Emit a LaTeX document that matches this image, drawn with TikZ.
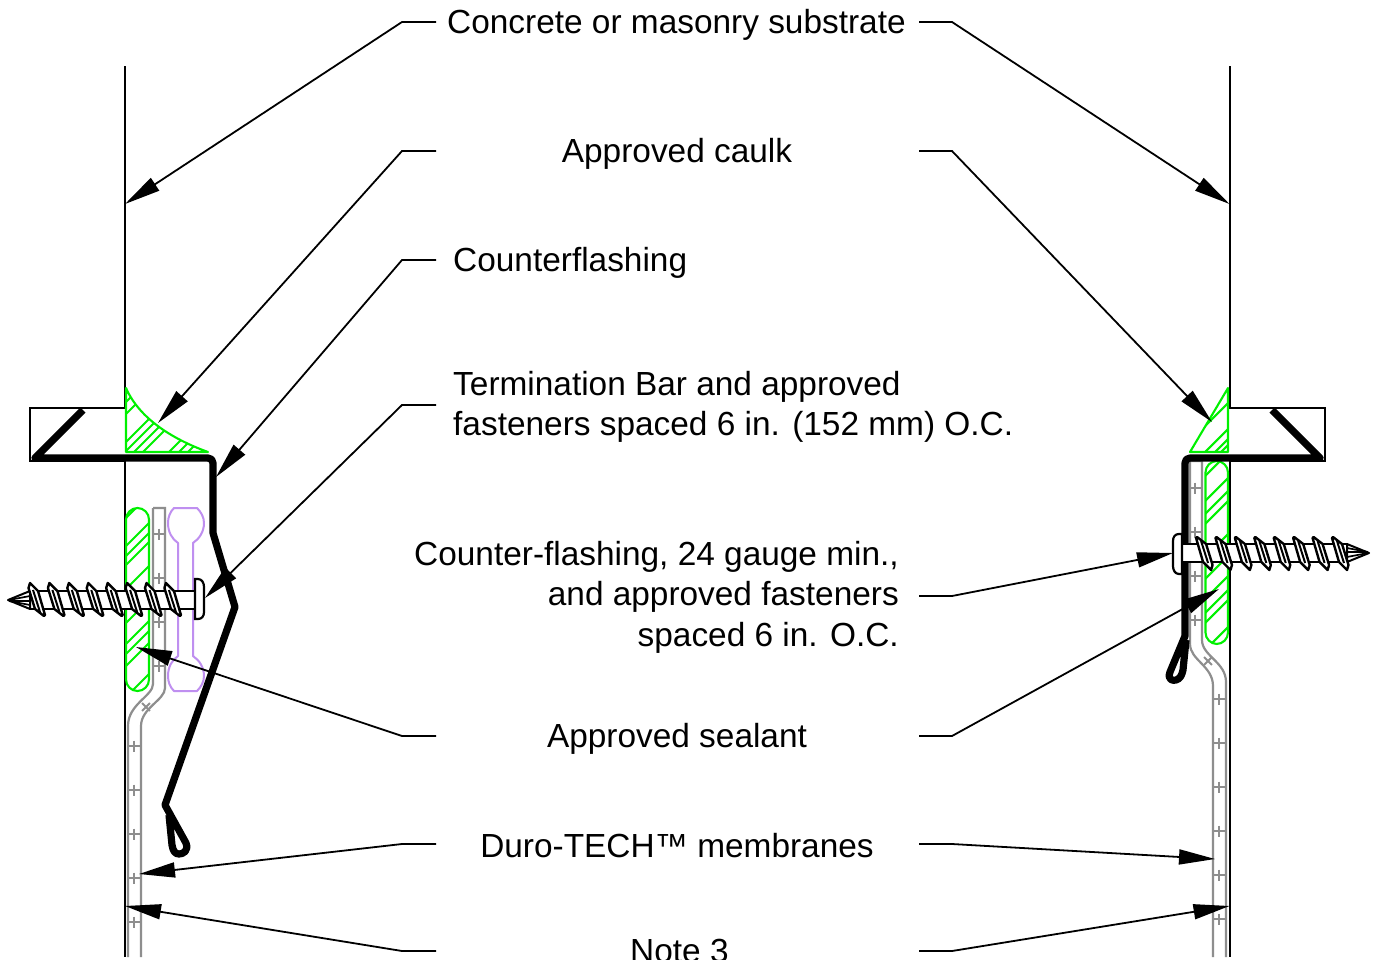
\documentclass[tikz,border=0pt]{standalone}
\usepackage{fontspec}
\setmainfont{Liberation Sans}
\usetikzlibrary{arrows.meta,calc}
\definecolor{sealgreen}{HTML}{00F000}
\definecolor{membgrey}{HTML}{8E8E8E}
\definecolor{barpurple}{HTML}{BF8FF0}
\tikzset{
  wall/.style={line width=2pt,black},
  flash/.style={line width=7.2pt,black,line join=round},
  seal/.style={line width=2.1pt,sealgreen},
  memb/.style={line width=2.2pt,membgrey},
  bar/.style={line width=2pt,barpurple},
  leader/.style={line width=1.8pt,black,-{Triangle[length=36pt,width=15pt]}},
  label/.style={inner sep=0pt,font=\fontsize{33.4}{40.6}\selectfont},
  plus/.pic={\draw[line width=1.9pt,membgrey] (-5.5,0)--(5.5,0) (0,-5.5)--(0,5.5);},
  screw/.pic={
    \draw[line width=2.4pt,black,fill=white] (22,-9)--(187,-9)--(187,9)--(22,9);
    \draw[line width=2pt,black,fill=white,line join=round] (0,0)--(22,-9)--(22,9)--cycle;
    \draw[line width=1.7pt,black] (1,0)--(22,-4) (1,1)--(22,1) (1,1)--(22,5);
    \foreach \k in {0,...,7}{
      \begin{scope}[shift={({\k*19.42},0)}]
        \draw[line width=2.4pt,black,fill=white,line join=round]
          (22,-17)--(30,-9)--(37,15)--(36,16)--(27,9)--(20.5,-12)--cycle;
        \draw[line width=2pt,black] (25,-10)--(32,12);
      \end{scope}
    }
    \draw[line width=2.2pt,black,fill=white]
      (187,-21)--(190,-21) .. controls (194,-21) and (196,-17) .. (196,-13)
      --(196,12) .. controls (196,16) and (194,19) .. (190,19)--(187,19)--cycle;
  }
}
\newcommand{\hatch}[1]{\foreach \c in {#1}{\draw[seal] ({\c-1000},1000)--(\c,0);}}
\begin{document}
\begin{tikzpicture}[x=1pt,y=-1pt]
\useasboundingbox (0,0) rectangle (1379,959);
\fill[white] (0,0) rectangle (1379,959);

% walls and ledges
\draw[wall] (125,66)--(125,408)--(30,408)--(30,461)--(125,461)--(125,957);
\draw[wall] (1229.5,66)--(1229.5,408)--(1325,408)--(1325,461)--(1229.5,461)--(1229.5,957);

% caulk, left
\begin{scope}
  \clip (126,388) .. controls (140,420) and (175,440) .. (208,452)--(126,452)--cycle;
  \hatch{528,540,568,577,586,595,621,631,640}
\end{scope}
\draw[seal,line join=round] (126,388) .. controls (140,420) and (175,440) .. (208,452)--(126,452)--cycle;
% sealant, left
\begin{scope}
  \clip[rounded corners=11.5pt] (126,508) rectangle (149,691);
  \hatch{644,672,682,691,715,749,770,780,792,823}
\end{scope}
\draw[seal,rounded corners=11.5pt] (126,508) rectangle (149,691);
% membrane, left
\draw[memb] (153,508)--(165,508)--(165,688) .. controls (165,700) and (141,708) .. (141,726)--(141,957);
\draw[memb] (153,508)--(153,684) .. controls (153,696) and (128,704) .. (128,726)--(128,957);
\foreach \p in {534,578,622,666}{\pic at (159,\p) {plus};}
\pic[rotate=45] at (146,707) {plus};
\foreach \p in {746,790,834,878,922}{\pic at (134,\p) {plus};}
% termination bar
\draw[bar,line join=round] (174,508)--(197,508) .. controls (201,512) and (204,517) .. (204,523)
  .. controls (204,532) and (199,539) .. (193,543)--(193,656)
  .. controls (199,660) and (204,667) .. (204,676) .. controls (204,682) and (201,687) .. (197,691)
  --(174,691) .. controls (170,687) and (168,682) .. (168,676)
  .. controls (168,667) and (172,660) .. (178,656)--(178,543)
  .. controls (172,539) and (168,532) .. (168,523) .. controls (168,517) and (170,512) .. (174,508)--cycle;

% counterflashing, left
\draw[flash] (83,410)--(35,458)--(208,458) .. controls (211,458) and (213,460) .. (213,463)
  --(213,533)--(235,607)--(165,805)--(186,843) .. controls (189,851) and (183,854) .. (179,854)
  .. controls (175,854) and (173,851) .. (172,845)--(169,815);
\pic at (8,600) {screw};

% caulk, right
\begin{scope}
  \clip (1228,388)--(1190,452)--(1228,452)--cycle;
  \hatch{1631,1657,1667,1673}
\end{scope}
\draw[seal,line join=round] (1228,388)--(1190,452)--(1228,452)--cycle;
% sealant, right
\begin{scope}
  \clip[rounded corners=11.5pt] (1205.5,461) rectangle (1228,644);
  \hatch{1681,1706,1719,1729,1762,1784,1804,1818,1828,1855}
\end{scope}
\draw[seal,rounded corners=11.5pt] (1205.5,461) rectangle (1228,644);
% membrane, right
\draw[memb] (1190,461)--(1202,461)--(1202,640) .. controls (1202,656) and (1226,662) .. (1226,682)--(1226,957);
\draw[memb] (1190,461)--(1190,644) .. controls (1190,660) and (1213,666) .. (1213,686)--(1213,957);
\foreach \p in {488,532,576,620}{\pic at (1195,\p) {plus};}
\pic[rotate=45] at (1208,661) {plus};
\foreach \p in {699,743,787,831,875,919}{\pic at (1219,\p) {plus};}
% counterflashing, right
\draw[flash] (1272,410)--(1320,458)--(1190,458) .. controls (1187,458) and (1185,460) .. (1185,463)
  --(1185,636)--(1170,672) .. controls (1167,680) and (1173,681) .. (1176,680)
  .. controls (1180,679) and (1182,675) .. (1183,670)--(1186,640);
\pic[rotate=180] at (1369,553) {screw};

% labels
\node[label,anchor=base west] (tSub) at (447,33) {Concrete or masonry substrate};
\node[label,anchor=base] (tCaulk) at (677,162) {Approved caulk};
\node[label,anchor=base west] (tCF) at (453,271) {Counterflashing};
\node[label,anchor=west,align=left] (tTerm) at (453,407) {Termination Bar and approved\\fasteners spaced 6 in. (152 mm) O.C.};
\node[label,anchor=east,align=right] (tFast) at (899,597) {Counter-flashing, 24 gauge min.,\\and approved fasteners\\spaced 6 in. O.C.};
\node[label,anchor=base] (tSeal) at (677,747) {Approved sealant};
\node[label,anchor=base] (tDuro) at (677,857) {Duro-TECH™ membranes};
\node[label,anchor=base west] (tNote) at (630,962) {Note 3};

% leader anchors
\coordinate (aL) at (436,22); \coordinate (aR) at (919,22);
\coordinate (bL) at (436,151); \coordinate (bR) at (919,151);
\coordinate (cL) at (436,260);
\coordinate (dL) at (436,405);
\coordinate (eR) at (919,596);
\coordinate (fL) at (436,736); \coordinate (fR) at (919,736);
\coordinate (gL) at (436,844); \coordinate (gR) at (919,844);
\coordinate (hL) at (436,951); \coordinate (hR) at (919,951);
\coordinate (wallTL) at (125,204); \coordinate (wallTR) at (1229.5,204);
\coordinate (caulkL) at (158,423); \coordinate (caulkR) at (1212,422);
\coordinate (flashL) at (216,477);
\coordinate (barL) at (205,598);
\coordinate (headR) at (1173,553);
\coordinate (sealL) at (136,647); \coordinate (sealR) at (1219,589);
\coordinate (membL) at (139,874); \coordinate (membR) at (1215,859);
\coordinate (noteL) at (125,906); \coordinate (noteR) at (1229.5,906);

\draw[leader] (aL)--(402,22)--(wallTL);
\draw[leader] (aR)--(952,22)--(wallTR);
\draw[leader] (bL)--(402,151)--(caulkL);
\draw[leader] (bR)--(952,151)--(caulkR);
\draw[leader] (cL)--(402,260)--(flashL);
\draw[leader] (dL)--(402,405)--(barL);
\draw[leader] (eR)--(952,596)--(headR);
\draw[leader] (fL)--(402,736)--(sealL);
\draw[leader] (fR)--(952,736)--(sealR);
\draw[leader] (gL)--(402,844)--(membL);
\draw[leader] (gR)--(952,844)--(membR);
\draw[leader] (hL)--(402,951)--(noteL);
\draw[leader] (hR)--(952,951)--(noteR);
\end{tikzpicture}
\end{document}
